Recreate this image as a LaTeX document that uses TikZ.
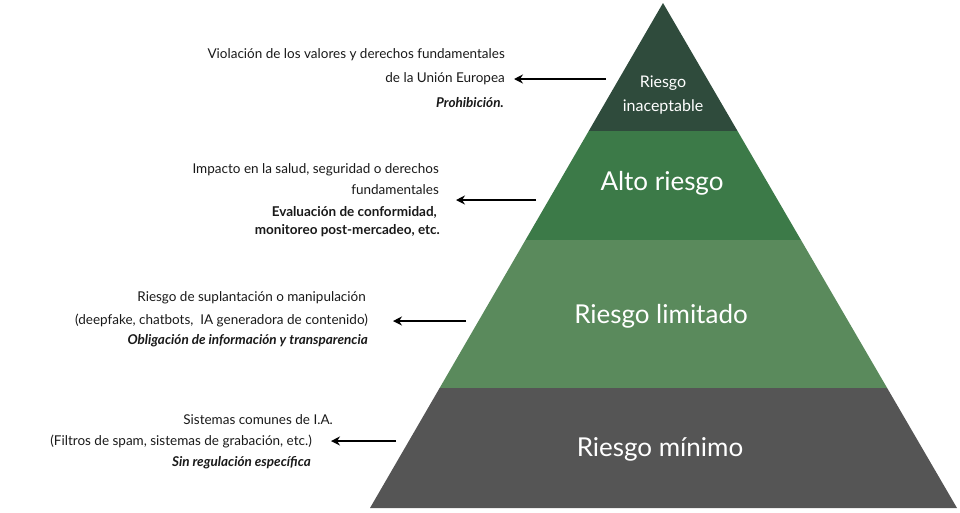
\documentclass[tikz,border=0pt]{standalone}
\usepackage{fontspec}
\setmainfont{Lato}
\usetikzlibrary{arrows.meta}
\definecolor{cA}{HTML}{2F4B3C}
\definecolor{cB}{HTML}{3C7A48}
\definecolor{cC}{HTML}{5A8A5C}
\definecolor{cD}{HTML}{555555}
\begin{document}
\begin{tikzpicture}[x=1pt,y=-1pt,
  lab/.style={anchor=east,inner sep=0,font=\fontsize{13.5}{16}\selectfont,text=black!90},
  tier/.style={text=white,align=center,inner sep=0},
  arr/.style={line width=2pt,-{Stealth[length=9pt,width=9pt]}}]
\useasboundingbox (0,0) rectangle (960,512);
\begin{scope}
\clip (663,3) -- (957,508) -- (370,508) -- cycle;
\fill[cA] (300,0) rectangle (960,131);
\fill[cB] (300,131) rectangle (960,240);
\fill[cC] (300,240) rectangle (960,388);
\fill[cD] (300,388) rectangle (960,510);
\end{scope}
\node[tier,font=\fontsize{16}{24}\selectfont] (t1) at (663,95) {Riesgo\\inaceptable};
\node[tier,font=\fontsize{26}{30}\selectfont] (t2) at (662,183) {Alto riesgo};
\node[tier,font=\fontsize{26}{30}\selectfont] (t3) at (661,316) {Riesgo limitado};
\node[tier,font=\fontsize{26}{30}\selectfont] (t4) at (660,449) {Riesgo mínimo};
% block 1
\node[lab] (a1) at (505,55) {Violación de los valores y derechos fundamentales};
\node[lab] (a2) at (505,79) {de la Unión Europea};
\node[lab] (a3) at (504,103) {\textbf{\textit{Prohibición.}}};
\coordinate (s1) at (606,79); \coordinate (e1) at (514,79);
\draw[arr] (s1) -- (e1);
% block 2
\node[lab] (b1) at (439,170) {Impacto en la salud, seguridad o derechos};
\node[lab] (b2) at (439,190) {fundamentales};
\node[lab] (b3) at (437,212) {\textbf{Evaluación de conformidad,}};
\node[lab] (b4) at (440,231) {\textbf{monitoreo post-mercadeo, etc.}};
\coordinate (s2) at (536,200); \coordinate (e2) at (456,200);
\draw[arr] (s2) -- (e2);
% block 3
\node[lab] (c1) at (366,298) {Riesgo de suplantación o manipulación};
\node[lab] (c2) at (368,320) {(deepfake, chatbots,\ \ IA generadora de contenido)};
\node[lab] (c3) at (368,341) {\textbf{\textit{Obligación de información y transparencia}}};
\coordinate (s3) at (466,321); \coordinate (e3) at (393,321);
\draw[arr] (s3) -- (e3);
% block 4
\node[lab] (d1) at (333,420) {Sistemas comunes de I.A.};
\node[lab] (d2) at (312,441) {(Filtros de spam, sistemas de grabación, etc.)};
\node[lab] (d3) at (311,463) {\textbf{\textit{Sin regulación específica}}};
\coordinate (s4) at (396,441); \coordinate (e4) at (331,441);
\draw[arr] (s4) -- (e4);
\end{tikzpicture}
\end{document}
